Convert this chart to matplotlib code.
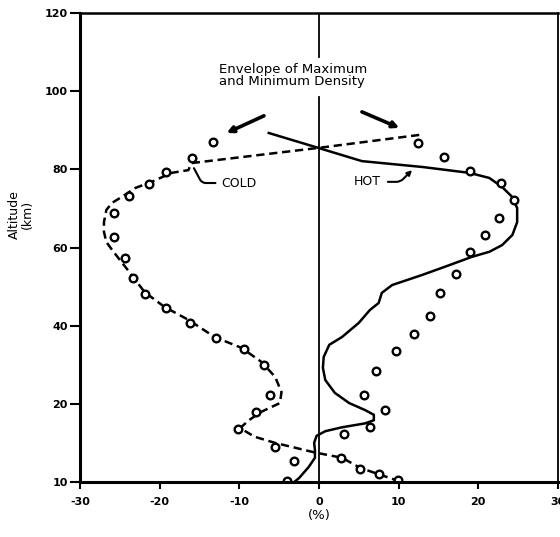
import numpy as np
import matplotlib
matplotlib.use('Agg')
import matplotlib.pyplot as plt

# dashed line (cold) and solid line (hot): percent vs altitude (km)
cold_x = [12.6, 0.0, -16.0, -16.4, -18.5, -21.0, -23.1, -24.8, -26.0, -26.7, -27.0, -27.0,
          -26.7, -25.8, -24.8, -23.8, -21.9, -19.4, -16.4, -13.1, -9.7, -7.2, -5.5, -4.7,
          -4.9, -7.2, -8.8, -9.9, -8.1, -5.5, -0.6, 2.9, 5.2, 7.5, 10.1]
cold_alt = [88.8, 85.5, 81.6, 79.8, 79.1, 76.8, 75.2, 72.9, 71.4, 69.6, 66.5, 64.0,
            61.4, 58.9, 56.3, 53.7, 48.6, 44.8, 41.5, 37.1, 34.3, 30.7, 26.9, 23.0,
            20.2, 19.0, 17.9, 16.9, 15.8, 15.0, 13.8, 13.1, 11.8, 11.0, 10.1]

hot_x = [-6.3, -0.1, 5.4, 13.0, 18.9, 21.4, 23.0, 24.3, 24.9, 24.9, 24.3, 23.0, 21.4,
         19.2, 16.4, 13.0, 9.2, 7.9, 7.5, 6.4, 5.0, 2.9, 1.3, 0.6, 0.5, 0.8, 2.0, 3.8,
         5.8, 6.9, 6.9, 5.8, 2.9, 0.8, -0.3, -0.6, -0.5, -0.5, -1.3, -2.5, -3.1]
hot_alt = [89.3, 85.5, 82.1, 80.6, 79.1, 77.8, 75.5, 72.9, 70.1, 66.5, 63.2, 60.6, 58.9,
           57.6, 55.5, 53.0, 50.4, 48.4, 45.8, 44.0, 40.7, 37.1, 35.1, 32.0, 29.2, 26.1,
           22.8, 20.2, 19.2, 18.6, 17.9, 17.5, 17.0, 16.5, 15.9, 15.0, 14.1, 13.1, 11.9,
           10.5, 10.0]

# open circles
cold_pts_x = [-13.3, -16.0, -19.2, -21.4, -23.9, -25.8, -25.7, -24.3, -23.3, -21.8, -19.2,
              -16.2, -12.9, -9.4, -6.9, -6.2, -7.9, -10.2, -5.5, 2.8, 5.2, 7.5, 9.9]
cold_pts_alt = [87.0, 82.9, 79.3, 76.3, 73.2, 68.8, 62.7, 57.3, 52.2, 48.1, 44.5,
                40.7, 36.8, 34.0, 29.9, 22.3, 19.0, 16.8, 14.5, 13.1, 11.7, 11.0, 10.3]

hot_pts_x = [12.5, 15.7, 19.0, 22.9, 24.5, 22.6, 20.8, 19.0, 17.2, 15.2, 14.0, 11.9, 9.7,
             7.2, 5.7, 8.3, 6.4, 3.1, -3.1, -4.0]
hot_pts_alt = [86.8, 83.2, 79.6, 76.5, 72.2, 67.5, 63.2, 58.8, 53.2, 48.4, 42.5, 37.9, 33.5,
               28.4, 22.3, 19.2, 17.0, 16.2, 12.7, 10.1]

x_ticks = [-30, -20, -10, 0, 10, 20, 30]
y_ticks = [10, 20, 40, 60, 80, 100, 120]


# the altitude axis of the original is stretched below 20 km
def fwd(y):
    y = np.asarray(y, dtype=float)
    return np.where(y < 20, 2 * y - 20, y)


def inv(p):
    p = np.asarray(p, dtype=float)
    return np.where(p < 20, (p + 20) / 2, p)


plt.rcParams['font.family'] = 'DejaVu Sans'

fig = plt.figure(figsize=(5.6, 5.37), dpi=100)
ax = fig.add_axes([0.143, 0.1024, 0.853, 0.8734])
ax.set_yscale('function', functions=(fwd, inv))

ax.plot(cold_x, cold_alt, color='black', lw=1.8, dashes=(3.3, 1.9))
ax.plot(hot_x, hot_alt, color='black', lw=1.8)
ax.plot(cold_pts_x, cold_pts_alt, 'o', mfc='white', mec='black', ms=5.5, mew=1.7)
ax.plot(hot_pts_x, hot_pts_alt, 'o', mfc='white', mec='black', ms=5.5, mew=1.7)

# vertical zero line, broken around the text
ax.axvline(0, ymin=0, ymax=0.821, color='black', lw=1.3)
ax.axvline(0, ymin=0.906, ymax=1, color='black', lw=1.3)

ax.text(-12.5, 104.1, 'Envelope of Maximum\nand Minimum Density', ha='left', va='center',
        fontsize=9.5, linespacing=0.92)

ax.annotate('', xy=(-11.6, 89.3), xytext=(-6.9, 93.7),
            arrowprops=dict(arrowstyle='-|>', lw=2.6, color='black', mutation_scale=9,
                            shrinkA=0, shrinkB=0))
ax.annotate('', xy=(10.1, 90.6), xytext=(5.4, 94.7),
            arrowprops=dict(arrowstyle='-|>', lw=2.6, color='black', mutation_scale=9,
                            shrinkA=0, shrinkB=0))

ax.annotate('COLD', xy=(-15.7, 80.3), xytext=(-12.3, 76.5), ha='left', va='center', fontsize=9,
            arrowprops=dict(arrowstyle='-', lw=1.5, color='black', relpos=(0, 0.5),
                            connectionstyle='angle,angleA=0,angleB=-62,rad=4',
                            shrinkA=2, shrinkB=0))
ax.annotate('HOT', xy=(11.7, 79.8), xytext=(4.4, 76.8), ha='left', va='center', fontsize=9,
            arrowprops=dict(arrowstyle='-|>', lw=1.5, color='black', relpos=(1, 0.5),
                            connectionstyle='angle,angleA=0,angleB=45,rad=4',
                            mutation_scale=7, shrinkA=3, shrinkB=0))

ax.set_xlim(-30, 30)
ax.set_ylim(10, 120)
ax.set_xticks(x_ticks)
ax.set_yticks(y_ticks)
ax.set_xticklabels([str(v) for v in x_ticks], fontweight='bold', fontsize=8)
ax.set_yticklabels([str(v) for v in y_ticks], fontweight='bold', fontsize=8)
ax.tick_params(axis='y', direction='out', length=7, width=1.5, pad=2)
ax.tick_params(axis='x', direction='out', length=5, width=1.5, pad=6)
ax.minorticks_off()

for side in ['left', 'bottom']:
    ax.spines[side].set_linewidth(2.2)
ax.spines['top'].set_linewidth(1.8)
ax.spines['right'].set_linewidth(1.3)

ax.set_xlabel('(%)', fontsize=9.5, labelpad=1)
fig.text(0.038, 0.6, 'Altitude\n(km)', rotation=90, ha='center', va='center', fontsize=9,
         linespacing=1.0)

fig.savefig('out.png', dpi=100)
